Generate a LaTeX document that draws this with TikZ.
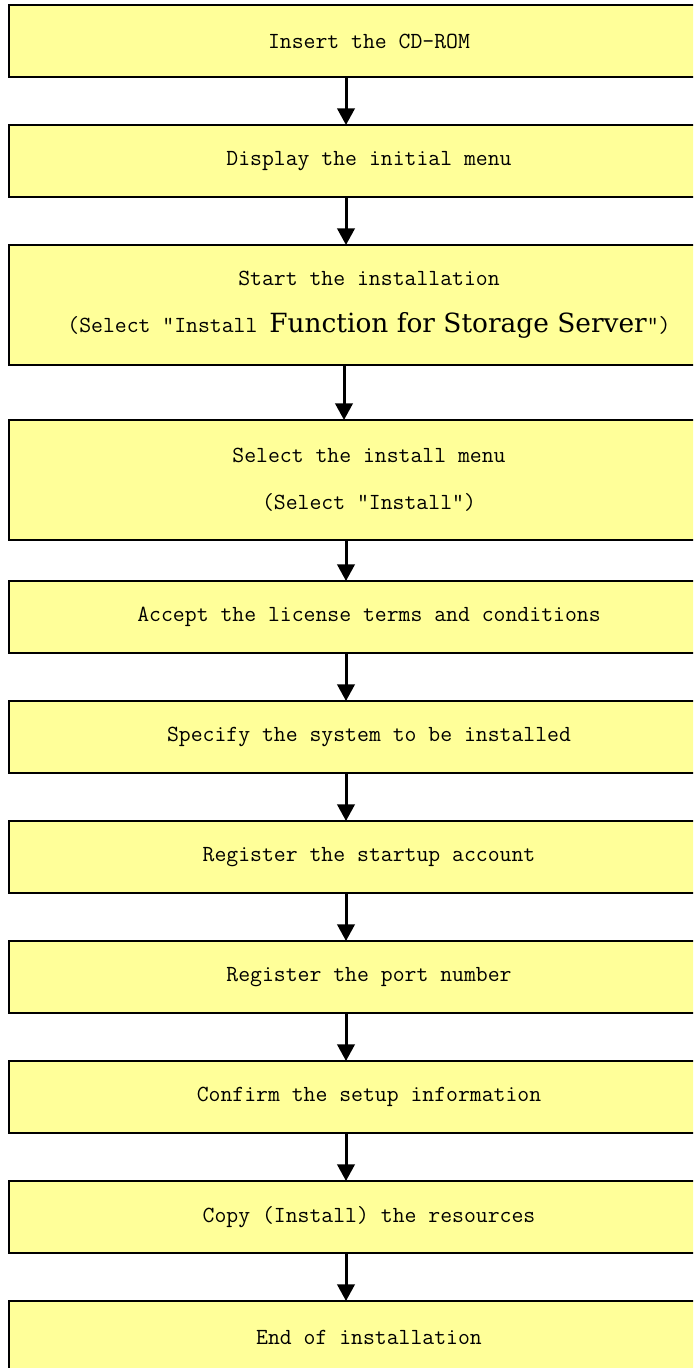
\documentclass[tikz,border=0pt]{standalone}
\usepackage{fontspec}
\setmonofont{Latin Modern Mono}
\newfontfamily\propserif{DejaVu Serif}
\usetikzlibrary{arrows.meta}
\definecolor{boxfill}{HTML}{FFFF99}
\begin{document}
\begin{tikzpicture}[x=0.75pt,y=-0.75pt,
  stepbox/.style={draw=black, line width=1.2pt, fill=boxfill, minimum width=540pt,
    inner sep=0pt, outer sep=0pt, anchor=north west, align=center,
    font=\ttfamily\fontsize{17.3pt}{35pt}\selectfont},
  onebox/.style={stepbox, minimum height=54pt},
  twobox/.style={stepbox, minimum height=90pt},
  flow/.style={line width=2.25pt, -{Triangle[length=12.5pt,width=13pt]}}]
\useasboundingbox (0,0) rectangle (693,1368);
\clip (0,0) rectangle (693,1368);
\node[onebox] (n1) at (9,5) {Insert the CD-ROM};
\node[onebox] (n2) at (9,125) {Display the initial menu};
\node[twobox] (n3) at (9,245) {Start the installation\\(Select ”Install {\propserif\fontsize{19.8pt}{35pt}\selectfont Function for Storage Server}”)};
\node[twobox] (n4) at (9,420) {Select the install menu\\(Select ”Install”)};
\node[onebox] (n5) at (9,581) {Accept the license terms and conditions};
\node[onebox] (n6) at (9,701) {Specify the system to be installed};
\node[onebox] (n7) at (9,821) {Register the startup account};
\node[onebox] (n8) at (9,941) {Register the port number};
\node[onebox] (n9) at (9,1061) {Confirm the setup information};
\node[onebox] (n10) at (9,1181) {Copy (Install) the resources};
\node[onebox] (n11) at (9,1301) {End of installation};
\coordinate (ax) at (346,0);
\coordinate (bx) at (344,0);
\draw[flow] (n1.south -| ax) -- (n2.north -| ax);
\draw[flow] (n2.south -| ax) -- (n3.north -| ax);
\draw[flow] (n3.south -| bx) -- (n4.north -| bx);
\draw[flow] (n4.south -| ax) -- (n5.north -| ax);
\draw[flow] (n5.south -| ax) -- (n6.north -| ax);
\draw[flow] (n6.south -| ax) -- (n7.north -| ax);
\draw[flow] (n7.south -| ax) -- (n8.north -| ax);
\draw[flow] (n8.south -| ax) -- (n9.north -| ax);
\draw[flow] (n9.south -| ax) -- (n10.north -| ax);
\draw[flow] (n10.south -| ax) -- (n11.north -| ax);
\end{tikzpicture}
\end{document}
